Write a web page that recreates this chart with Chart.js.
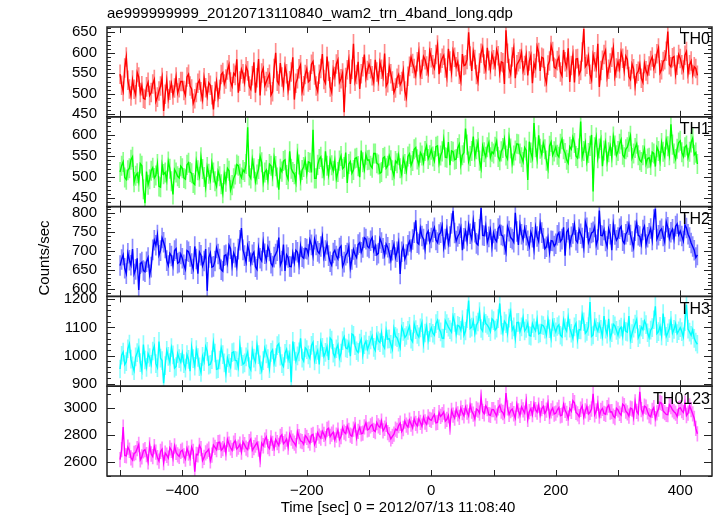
<!DOCTYPE html>
<html>
<head>
<meta charset="utf-8">
<script src="https://cdn.jsdelivr.net/npm/chart.js@4.4.1/dist/chart.umd.min.js"></script>
<style>
  html, body { margin: 0; padding: 0; background: #fff; }
  #wrap { width: 717px; height: 516px; }
</style>
</head>
<body>
<div id="wrap"><canvas id="qdp" width="717" height="516"></canvas></div>
<script>
// light curve bins: 2.5 s steps from -500 s
var tStart = -500, tStep = 2.5;

var th0 = [
  548,521,506,563,590,533,512,495,534,511,498,552,541,503,520,489,487,517,528,496,503,524,535,481,492,507,519,540,458,499,532,488,509,526,497,514,541,502,515,530,
  530,508,497,541,548,519,512,477,488,503,526,533,505,486,539,515,494,527,521,498,462,506,530,491,511,547,552,524,536,558,571,529,518,550,545,584,503,531,560,549,
  528,566,556,519,511,544,577,503,539,585,496,551,562,520,530,539,548,497,505,562,600,531,524,575,541,516,567,549,508,532,553,589,486,526,537,561,571,505,520,547,
  561,529,533,572,579,546,519,506,548,562,597,535,526,591,555,517,504,559,542,573,583,528,537,551,455,540,559,583,524,560,622,531,547,578,512,549,566,596,539,557,
  572,561,544,528,583,553,531,577,560,542,598,519,527,566,549,531,503,514,538,547,522,530,556,507,491,543,567,589,574,562,545,578,602,545,560,591,583,568,551,604,
  588,571,562,596,619,548,575,587,594,563,541,610,580,552,605,589,566,578,548,531,597,569,571,584,650,592,556,603,584,547,530,575,599,613,573,558,612,581,559,596,
  583,567,607,593,551,578,576,524,655,599,562,548,590,611,538,571,578,585,601,556,569,594,545,580,594,526,574,563,615,601,556,589,587,542,527,570,580,618,603,565,
  562,581,590,553,544,607,578,565,611,529,569,594,528,585,586,548,557,602,658,566,572,591,548,534,595,578,563,622,517,557,582,596,606,541,560,575,589,612,543,563,
  578,561,602,587,556,592,584,542,535,573,561,520,549,555,572,538,528,574,556,547,568,581,590,562,574,598,612,551,559,579,583,604,652,571,566,588,591,547,570,596,
  586,571,558,594,603,549,571,580,547,566,562,545
];
var th1 = [
  512,527,536,499,494,516,521,541,548,488,503,509,489,532,527,471,438,513,482,495,515,522,498,504,531,478,476,529,507,511,492,537,520,490,459,518,511,502,498,526,
  521,498,495,529,534,512,509,486,482,537,516,501,547,519,500,476,524,508,493,533,511,490,478,514,502,483,462,507,489,521,515,469,481,497,506,530,527,508,499,517,
  512,531,618,504,497,542,521,489,506,519,549,535,488,511,517,493,531,527,502,546,526,499,470,520,513,538,541,505,495,561,520,512,507,488,555,530,492,517,524,541,
  508,536,534,511,612,497,497,529,543,548,521,503,561,527,505,542,528,515,539,496,512,539,550,520,524,558,486,531,537,509,517,544,546,526,500,563,535,518,553,540,
  541,527,522,556,556,533,530,509,512,545,548,521,527,551,540,516,503,538,533,552,521,506,545,531,514,549,555,528,538,566,570,542,529,558,551,534,562,574,543,552,
  565,549,538,572,574,533,551,561,589,547,546,583,528,562,560,541,543,569,578,530,552,558,615,577,537,550,562,596,548,566,583,539,521,574,559,548,571,582,547,560,
  556,572,585,548,540,561,569,590,551,543,593,568,532,551,563,579,578,556,547,536,570,563,493,584,558,545,628,571,544,599,567,553,581,566,539,520,574,583,552,561,
  571,553,548,579,590,566,557,541,533,572,566,594,581,550,545,568,632,547,562,581,537,557,574,600,466,571,594,545,568,588,526,563,582,537,559,574,547,596,575,552,
  562,579,589,553,547,566,571,584,598,545,556,569,579,552,540,536,552,567,531,544,546,529,559,556,525,571,562,538,581,560,548,589,573,552,625,577,556,543,567,582,
  586,559,549,571,575,546,560,582,592,553,558,531
];
var th2 = [
  662,678,690,655,641,694,676,663,705,640,652,681,598,667,671,649,646,672,683,638,658,703,728,715,742,689,701,734,723,708,675,662,694,687,662,701,706,668,671,692,
  681,664,652,701,698,686,667,653,712,679,641,697,689,661,674,705,596,683,695,658,660,674,708,692,679,651,647,688,690,669,715,706,662,695,684,660,705,728,760,703,
  688,671,714,699,669,690,697,659,652,708,681,674,723,693,676,711,700,668,661,684,692,701,735,663,674,717,648,690,683,660,659,694,670,702,697,666,712,685,681,707,
  705,691,729,716,688,731,716,699,694,712,737,684,701,718,688,672,663,695,702,687,679,708,713,660,671,689,695,712,656,678,704,691,683,717,722,697,709,735,731,712,
  708,727,735,701,714,690,694,733,722,707,689,718,710,694,676,702,717,683,698,721,640,698,712,679,691,715,725,704,730,748,780,722,718,759,739,731,705,744,752,723,
  734,750,761,729,722,743,748,766,709,731,757,719,738,772,805,747,726,738,745,761,702,733,752,726,768,745,731,779,749,720,716,757,812,741,740,765,723,737,756,712,
  747,731,725,759,766,742,739,717,698,764,752,735,731,723,800,751,716,768,744,729,760,741,727,712,749,736,705,762,738,725,772,748,733,706,711,734,696,727,726,713,
  719,741,748,725,731,762,688,749,756,715,737,746,769,728,722,756,745,734,709,776,761,722,734,747,750,763,716,730,806,741,740,755,726,712,758,744,702,769,743,728,
  735,758,764,727,720,744,751,769,742,725,709,753,773,741,738,718,755,765,717,736,746,759,729,782,810,731,741,753,758,739,724,776,762,733,749,757,731,765,771,742,
  752,739,726,768,760,744,735,721,712,702,683,690
];
var th3 = [
  952,1001,1012,968,978,1024,1041,987,963,946,995,1010,1027,975,948,1039,984,958,1006,993,969,1016,1033,971,957,1050,991,982,902,964,1018,997,975,1028,1002,955,961,1007,989,976,
  1008,971,955,1003,986,944,1029,989,962,1021,993,960,940,997,978,1032,1015,966,969,985,1046,1009,951,953,984,1027,1003,974,937,992,972,958,1010,1013,983,981,958,1037,996,969,
  974,995,1012,961,949,1019,991,977,1038,1003,967,946,982,1026,1006,989,953,1011,1020,972,993,1035,1042,998,971,961,1008,1022,985,1007,905,1050,1015,980,999,1013,1061,991,980,1027,
  1021,1002,990,1036,1047,981,1003,1018,968,1049,1029,997,1011,1031,984,1062,1055,1008,995,1024,1038,991,1009,1053,1066,1027,1024,1044,998,1076,1072,1035,1017,1011,1044,1058,1003,1039,1051,1022,
  1037,1055,1069,1029,1018,1072,1052,1046,1081,1036,1026,1088,1058,1059,1040,1022,1095,1068,1063,1047,1028,1101,1086,1064,1071,1089,1104,1058,1049,1112,1092,1075,1066,1098,1117,1043,1080,1105,1054,1082,
  1098,1079,1072,1113,1125,1095,1084,1062,1061,1124,1113,1101,1092,1083,1139,1118,1076,1107,1104,1089,1128,1072,1087,1131,1195,1096,1101,1123,1079,1108,1119,1156,1096,1087,1141,1114,1108,1099,1085,1130,
  1124,1090,1097,1131,1185,1108,1082,1122,1113,1079,1133,1156,1091,1102,1060,1117,1118,1085,1102,1134,1087,1096,1114,1071,1069,1113,1098,1088,1127,1077,1080,1109,1106,1094,1073,1128,1095,1062,1121,1100,
  1084,1103,1109,1072,1066,1125,1098,1087,1135,1097,1079,1061,1102,1114,1057,1092,1091,1145,1120,1079,1086,1103,1190,1068,1073,1121,1099,1086,1112,1093,1068,1140,1094,1076,1130,1062,1081,1111,1105,1089,
  1072,1094,1101,1069,1119,1086,1083,1140,1056,1078,1097,1112,1128,1063,1075,1101,1092,1123,1110,1081,1064,1090,1099,1127,1175,1078,1085,1104,1070,1149,1104,1068,1081,1096,1125,1079,1093,1113,1078,1088,
  1099,1085,1066,1120,1180,1094,1083,1072,1091,1061,1048,1040
];
var th0123 = [
  2620,2694,2860,2651,2648,2712,2689,2633,2617,2665,2672,2701,2731,2618,2640,2684,2693,2657,2604,2728,2661,2642,2716,2675,2635,2609,2680,2697,2598,2668,2652,2631,2707,2688,2629,2720,2674,2655,2643,2681,
  2690,2647,2623,2702,2668,2631,2712,2680,2530,2659,2655,2724,2701,2612,2636,2670,2682,2696,2611,2653,2727,2710,2693,2745,2748,2689,2701,2731,2669,2768,2734,2707,2688,2742,2759,2698,2712,2733,2676,2751,
  2730,2705,2694,2752,2771,2688,2708,2727,2745,2698,2620,2741,2722,2764,2787,2716,2701,2779,2739,2702,2768,2745,2724,2790,2803,2737,2750,2771,2712,2808,2779,2756,2741,2722,2826,2789,2758,2752,2733,2797,
  2784,2760,2742,2799,2806,2731,2761,2818,2793,2778,2829,2806,2775,2842,2851,2790,2808,2822,2766,2801,2837,2768,2790,2855,2822,2811,2869,2836,2801,2792,2844,2877,2779,2828,2858,2810,2815,2861,2892,2839,
  2845,2868,2879,2836,2827,2893,2868,2857,2904,2832,2851,2880,2819,2804,2772,2791,2808,2845,2836,2870,2888,2826,2849,2903,2874,2859,2911,2882,2853,2921,2887,2868,2922,2894,2866,2933,2897,2880,2935,2916,
  2910,2934,2952,2891,2894,2966,2938,2952,2971,2903,2917,2945,2859,2982,2948,2926,2990,2957,2931,2999,2966,2943,3007,2970,2942,3021,2978,2955,2921,2993,2984,2962,3080,2975,2958,3015,2996,2951,2947,2989,
  2988,2964,2941,3002,3019,2977,2967,2939,3110,3001,2953,2981,2992,2958,2926,3027,2979,2946,3008,2986,2962,3049,2917,2973,2995,2951,3031,2988,2970,3022,2948,2995,3013,2960,2984,3037,2938,2979,2999,2956,
  2962,2987,3004,2943,2948,3026,2983,2961,2925,2995,2976,3054,3039,2968,2957,2937,2991,3016,2934,2979,3012,2956,2969,2993,3105,2950,2978,3035,2941,2982,2997,2960,2954,3003,3021,2971,2973,2941,2930,2998,
  2986,2960,2947,3028,3018,2977,2964,2941,2999,2993,2931,3046,2975,2957,3120,2989,2958,3014,3007,2972,2944,2936,2983,3003,2921,2965,2992,3042,3035,2978,2966,2953,2951,3025,3010,2987,2973,2962,2938,2996,
  3003,2981,2968,3036,2945,2962,3016,2988,2957,2923,2850,2810
];
// half length of the error bars, per panel
var errHalf = [23, 23, 26, 32, 54];

var panelNames = ['TH0', 'TH1', 'TH2', 'TH3', 'TH0123'];
var panelSeries = [th0, th1, th2, th3, th0123];
var panelColors = ['#ff0000', '#00ff00', '#0000ff', '#00ffff', '#ff00ff'];
var errColors = ['rgba(255,0,0,0.45)', 'rgba(0,255,0,0.45)', 'rgba(0,0,255,0.45)', 'rgba(0,255,255,0.45)', 'rgba(255,0,255,0.45)'];
var panelMin = [444, 430, 581.5, 891, 2499];
var panelMax = [663, 643, 816, 1210, 3161];
var yTickLabels = [
  [450, 500, 550, 600, 650],
  [450, 500, 550, 600],
  [600, 650, 700, 750, 800],
  [900, 1000, 1100, 1200],
  [2600, 2800, 3000]
];
var yMajorStep = [50, 50, 50, 100, 200];
var yMinorStep = [10, 10, 10, 20, 100];
var xTickLabels = [-400, -200, 0, 200, 400];
var xMin = -521, xMax = 451;

var titleText = 'ae999999999_20120713110840_wam2_trn_4band_long.qdp';
var xTitle = 'Time [sec] 0 = 2012/07/13 11:08:40';
var yTitle = 'Counts/sec';

var FONT = '"Liberation Sans", Arial, Helvetica, sans-serif';
Chart.defaults.font.family = FONT;
Chart.defaults.font.size = 15;
Chart.defaults.color = '#000';

function toPoints(vals) {
  return vals.map(function (v, i) { return { x: tStart + i * tStep, y: v }; });
}
function toErrBars(vals, e) {
  return vals.map(function (v, i) { return { x: tStart + i * tStep, y: [v - e, v + e] }; });
}

var datasets = [];
var scales = {
  x: {
    type: 'linear',
    position: 'bottom',
    min: xMin,
    max: xMax,
    offset: false,
    grid: { display: false, drawTicks: false },
    border: { display: false },
    afterBuildTicks: function (s) { s.ticks = xTickLabels.map(function (v) { return { value: v }; }); },
    afterFit: function (s) { s.height = 40; },
    ticks: {
      padding: 6,
      autoSkip: false,
      maxRotation: 0,
      callback: function (v) { return v < 0 ? '\u2212' + Math.abs(v) : String(v); }
    }
  }
};

panelNames.forEach(function (name, i) {
  var id = 'y' + i;
  datasets.push({
    type: 'line',
    label: name,
    data: toPoints(panelSeries[i]),
    yAxisID: id,
    borderColor: panelColors[i],
    borderWidth: 1.4,
    pointRadius: 0,
    tension: 0,
    order: 0
  });
  datasets.push({
    type: 'bar',
    label: name + ' err',
    data: toErrBars(panelSeries[i], errHalf[i]),
    yAxisID: id,
    backgroundColor: errColors[i],
    borderWidth: 0,
    barThickness: 1,
    grouped: false,
    order: 1
  });
});

// stacked scales are laid out bottom-up, so add the last panel first
for (var k = panelNames.length - 1; k >= 0; k--) {
  (function (i) {
    scales['y' + i] = {
      type: 'linear',
      position: 'left',
      stack: 'panels',
      stackWeight: 1,
      min: panelMin[i],
      max: panelMax[i],
      grid: { display: false, drawTicks: false },
      border: { display: false },
      afterBuildTicks: function (s) { s.ticks = yTickLabels[i].map(function (v) { return { value: v }; }); },
      afterFit: function (s) { s.width = 107; },
      ticks: { padding: 10, autoSkip: false, callback: function (v) { return String(v); } }
    };
  })(k);
}

// frames, inward tick marks, panel names and axis titles in qdp style
var qdpFrame = {
  id: 'qdpFrame',
  afterDraw: function (chart) {
    var ctx = chart.ctx, area = chart.chartArea, xs = chart.scales.x;
    function seg(x1, y1, x2, y2) { ctx.beginPath(); ctx.moveTo(x1, y1); ctx.lineTo(x2, y2); ctx.stroke(); }
    ctx.save();
    ctx.strokeStyle = '#222';
    ctx.fillStyle = '#000';
    panelNames.forEach(function (name, i) {
      var ys = chart.scales['y' + i];
      var top = ys.top, bottom = ys.bottom;
      ctx.lineWidth = 1;
      var first = Math.ceil(ys.min / yMinorStep[i]) * yMinorStep[i];
      for (var v = first; v <= ys.max; v += yMinorStep[i]) {
        var py = Math.round(ys.getPixelForValue(v)) + 0.5;
        var len = (v % yMajorStep[i] === 0) ? 8 : 4;
        seg(area.left, py, area.left + len, py);
        seg(area.right - len, py, area.right, py);
      }
      for (var t = -500; t <= 400; t += 100) {
        var px = Math.round(xs.getPixelForValue(t)) + 0.5;
        seg(px, top, px, top + 6);
        seg(px, bottom - 6, px, bottom);
      }
      ctx.lineWidth = 1.5;
      ctx.strokeRect(area.left, top, area.right - area.left, bottom - top);
      ctx.font = '16px ' + FONT;
      ctx.textAlign = 'right';
      ctx.textBaseline = 'top';
      ctx.fillText(name, area.right - 2, top + 5);
    });
    ctx.font = '15px ' + FONT;
    ctx.textAlign = 'left';
    ctx.textBaseline = 'middle';
    ctx.fillText(titleText, area.left, 14);
    ctx.textAlign = 'center';
    ctx.fillText(xTitle, 398, 508);
    ctx.translate(45, 258);
    ctx.rotate(-Math.PI / 2);
    ctx.fillText(yTitle, 0, 0);
    ctx.restore();
  }
};

new Chart(document.getElementById('qdp'), {
  type: 'line',
  data: { datasets: datasets },
  options: {
    responsive: false,
    animation: false,
    devicePixelRatio: 1,
    layout: { padding: { top: 27, right: 5, left: 0, bottom: 0 } },
    plugins: { legend: { display: false }, tooltip: { enabled: false }, title: { display: false } },
    scales: scales
  },
  plugins: [qdpFrame]
});
</script>
</body>
</html>
